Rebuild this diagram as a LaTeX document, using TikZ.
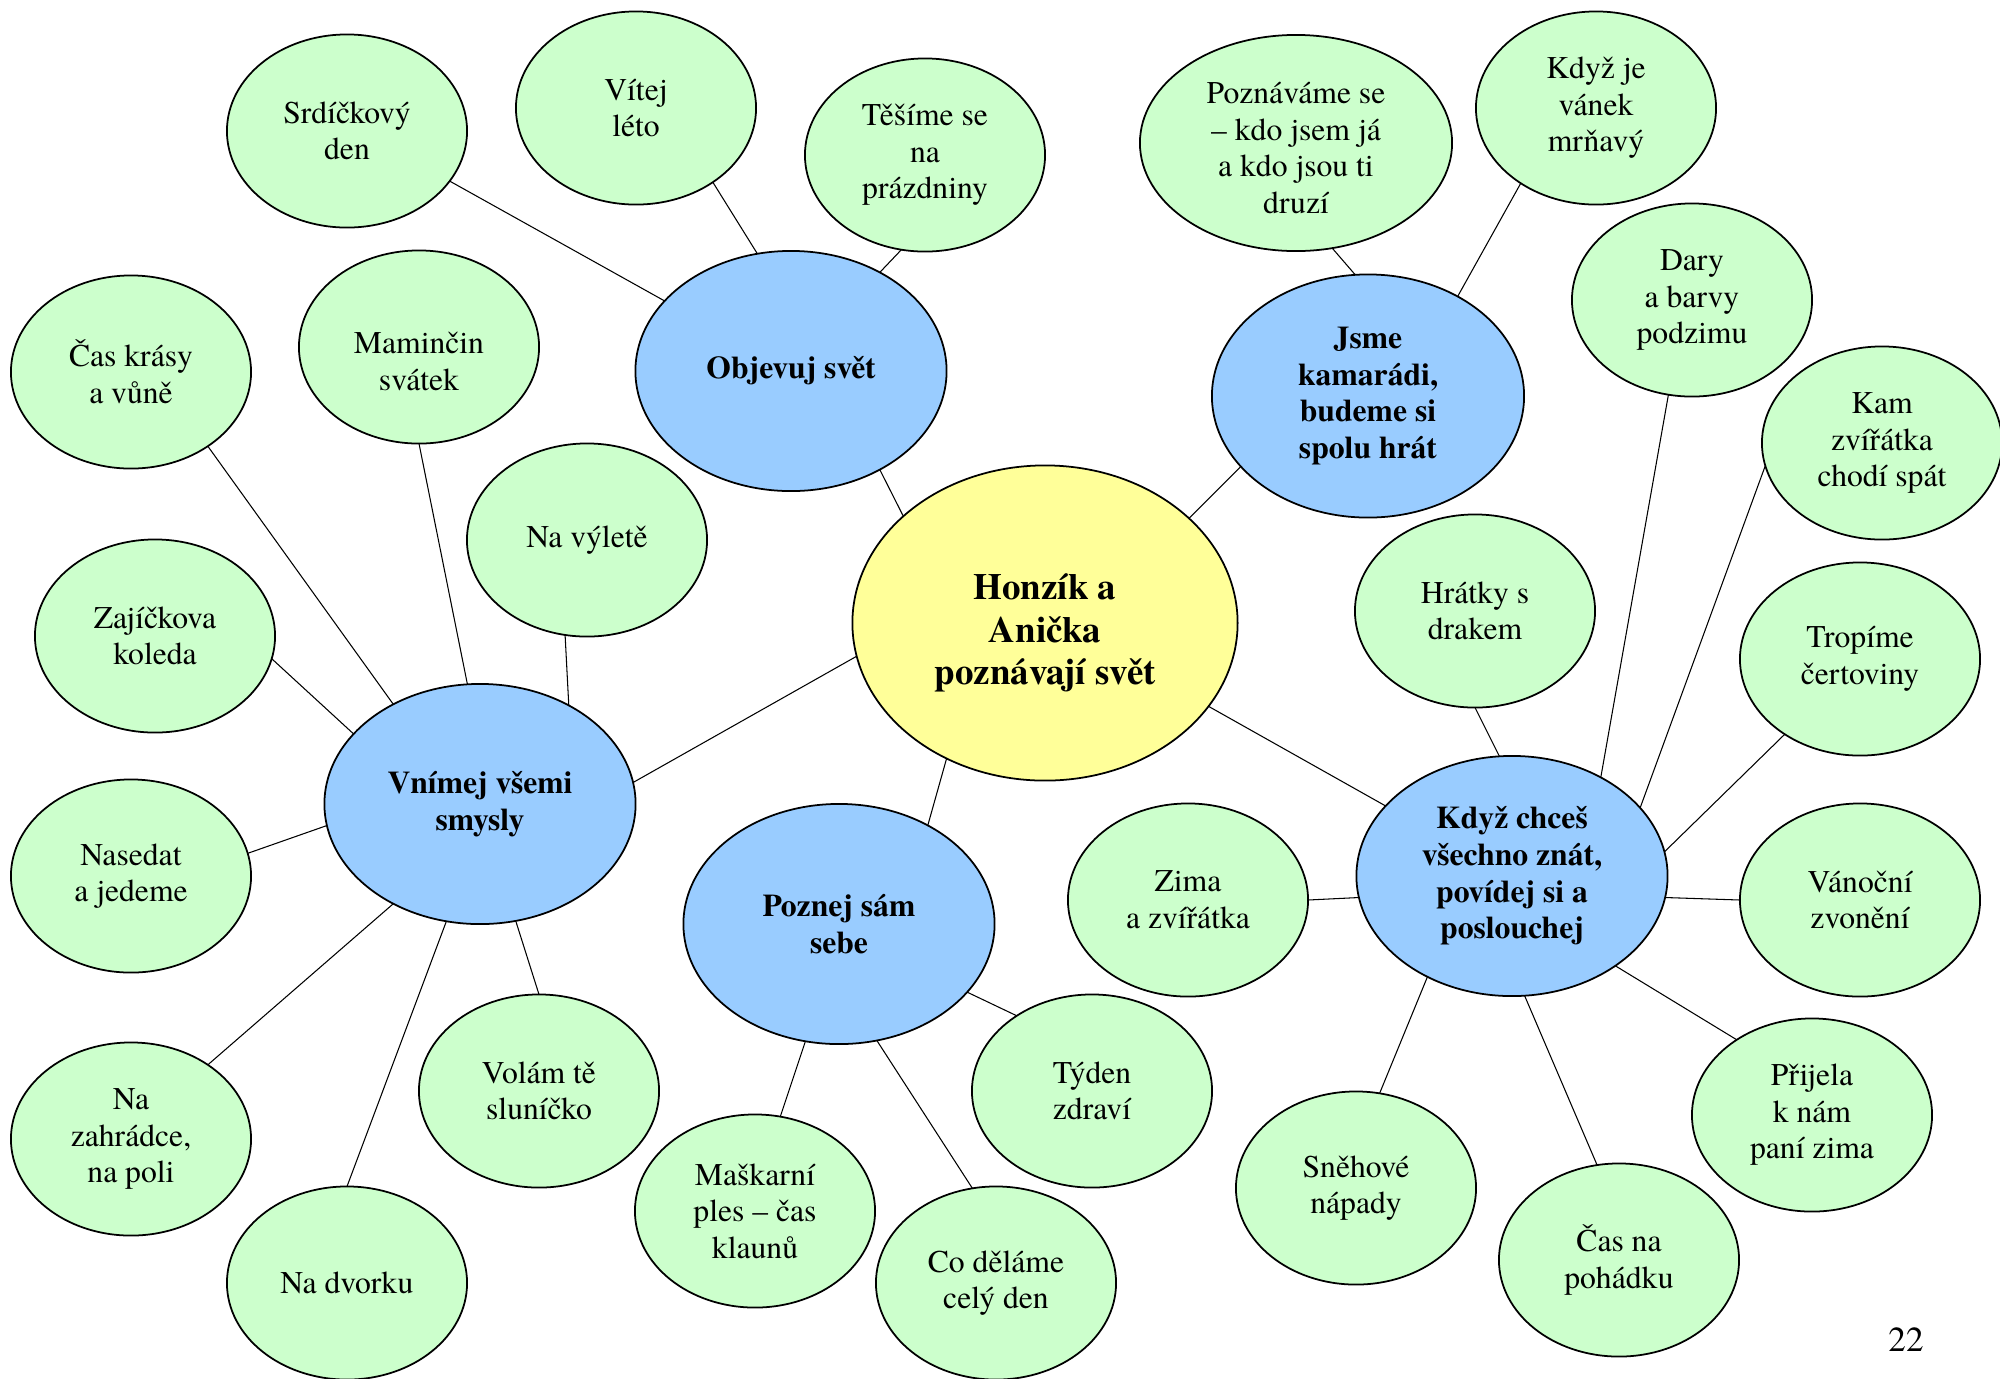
\documentclass[tikz,border=0pt]{standalone}
\usepackage{fontspec}
\IfFontExistsTF{texgyretermes-regular.otf}
  {\setmainfont{texgyretermes}[Extension=.otf, UprightFont=*-regular, BoldFont=*-bold]}
  {\setmainfont{Liberation Serif}}
\usetikzlibrary{shapes.geometric}

\definecolor{leafgreen}{HTML}{CCFFCC}
\definecolor{themeblue}{HTML}{99CCFF}
\definecolor{hubyellow}{HTML}{FFFF99}

\tikzset{
  topic/.style={ellipse, draw, line width=0.5pt, inner sep=0pt, outer sep=0pt, align=center,
    font=\fontsize{9}{10.4}\selectfont},
  leaf/.style={topic, fill=leafgreen, minimum width=2.4cm, minimum height=1.93cm},
  theme/.style={topic, fill=themeblue, minimum width=3.11cm, minimum height=2.4cm,
    font=\fontsize{9}{10.4}\selectfont\bfseries},
  hub/.style={topic, fill=hubyellow, minimum width=3.85cm, minimum height=3.15cm,
    font=\fontsize{10.5}{12.1}\selectfont\bfseries},
  link/.style={line width=0.3pt},
}

\begin{document}
\begin{tikzpicture}[x=0.01cm,y=-0.01cm]
        \useasboundingbox (0,0) rectangle (2000,1378);
        % centre and the five themes
        \node[hub] (honza) at (1045,623) {\rule{0pt}{13.1pt}Honzík a\\Anička\\poznávají svět};
        \node[theme] (objevuj) at (791,371) {Objevuj svět};
        \node[theme, minimum width=3.12cm, minimum height=2.43cm] (jsme) at (1368,396) {Jsme\\kamarádi,\\budeme si\\spolu hrát};
        \node[theme] (vnimej) at (480,804) {Vnímej všemi\\smysly};
        \node[theme] (poznej) at (839,924) {Poznej sám\\sebe};
        \node[theme] (kdyz) at (1512,876) {Když chceš\\všechno znát,\\povídej si a\\poslouchej};
        % leaves
        \node[leaf] (srdce) at (347,131) {Srdíčkový\\den};
        \node[leaf] (vitej) at (636,108) {Vítej\\léto};
        \node[leaf] (tesime) at (925,155) {Těšíme se\\na\\prázdniny};
        \node[leaf] (cas) at (131,372) {Čas krásy\\a vůně};
        \node[leaf] (maminka) at (419,347) {\rule{0pt}{14.2pt}Maminčin\\svátek};
        \node[leaf] (vylet) at (587,540) {Na výletě};
        \node[leaf] (zajic) at (155,636) {Zajíčkova\\koleda};
        \node[leaf] (nasedat) at (131,876) {Nasedat\\a jedeme};
        \node[leaf] (zahradka) at (131,1139) {Na\\zahrádce,\\na poli};
        \node[leaf] (dvorek) at (347,1283) {Na dvorku};
        \node[leaf] (slunicko) at (539,1091) {Volám tě\\sluníčko};
        \node[leaf] (maskarni) at (755,1211) {Maškarní\\ples – čas\\klaunů};
        \node[leaf] (celyden) at (996,1283) {Co děláme\\celý den};
        \node[leaf] (tyden) at (1092,1091) {Týden\\zdraví};
        \node[leaf, minimum width=3.12cm, minimum height=2.16cm] (poznavame) at (1296,143) {\rule{0pt}{9pt}Poznáváme se\\– kdo jsem já\\a kdo jsou ti\\druzí};
        \node[leaf] (vanek) at (1596,108) {Když je\\vánek\\mrňavý};
        \node[leaf] (dary) at (1692,300) {Dary\\a barvy\\podzimu};
        \node[leaf] (spat) at (1882,443) {Kam\\zvířátka\\chodí spát};
        \node[leaf] (drak) at (1475,611) {Hrátky s\\drakem};
        \node[leaf] (certovin) at (1860,659) {Tropíme\\čertoviny};
        \node[leaf] (zima) at (1188,900) {Zima\\a zvířátka};
        \node[leaf] (vanoce) at (1860,900) {Vánoční\\zvonění};
        \node[leaf] (snih) at (1356,1188) {Sněhové\\nápady};
        \node[leaf] (pohadka) at (1619,1260) {Čas na\\pohádku};
        \node[leaf] (prijela) at (1812,1115) {Přijela\\k nám\\paní zima};
        \node[font=\fontsize{10}{12}\selectfont] (strana) at (1906,1340) {22};
        % connectors
        \draw[link] (srdce.-26) -- (objevuj.151.5);
        \draw[link] (vitej.-44) -- (objevuj.106.5);
        \draw[link] (tesime.-104.6) -- (objevuj.48.5);
        \draw[link] (objevuj.-48) -- (honza.143.8);
        \draw[link] (cas.-44) -- (vnimej.131.5);
        \draw[link] (maminka.-90) -- (vnimej.96.2);
        \draw[link] (vylet.-103.5) -- (vnimej.48.8);
        \draw[link] (zajic.-11) -- (vnimej.151.4);
        \draw[link] (honza.190.6) -- (vnimej.8.7);
        \draw[link] (nasedat.11.3) -- (vnimej.188.7);
        \draw[link] (zahradka.44.2) -- (vnimej.-131.8);
        \draw[link] (dvorek.90) -- (vnimej.-106.7);
        \draw[link] (slunicko.90) -- (vnimej.-73.7);
        \draw[link] (honza.-126.1) -- (poznej.48.5);
        \draw[link] (poznej.-106.4) -- (maskarni.75.8);
        \draw[link] (poznej.-72.7) -- (celyden.104.6);
        \draw[link] (poznej.-28.1) -- (tyden.135.4);
        \draw[link] (poznavame.-71.6) -- (jsme.96.1);
        \draw[link] (vanek.-135.4) -- (jsme.48.8);
        \draw[link] (jsme.-151.7) -- (honza.36.7);
        \draw[link] (honza.-27) -- (kdyz.151.4);
        \draw[link] (drak.-90) -- (kdyz.96.2);
        \draw[link] (dary.-104) -- (kdyz.48.8);
        \draw[link] (spat.191.5) -- (kdyz.28.3);
        \draw[link] (certovin.-135) -- (kdyz.9.1);
        \draw[link] (zima.0) -- (kdyz.188.4);
        \draw[link] (vanoce.180) -- (kdyz.-8.4);
        \draw[link] (kdyz.-41.6) -- (prijela.135.8);
        \draw[link] (kdyz.-130.8) -- (snih.76);
        \draw[link] (kdyz.-84.2) -- (pohadka.103.5);
    \end{tikzpicture}
\end{document}
